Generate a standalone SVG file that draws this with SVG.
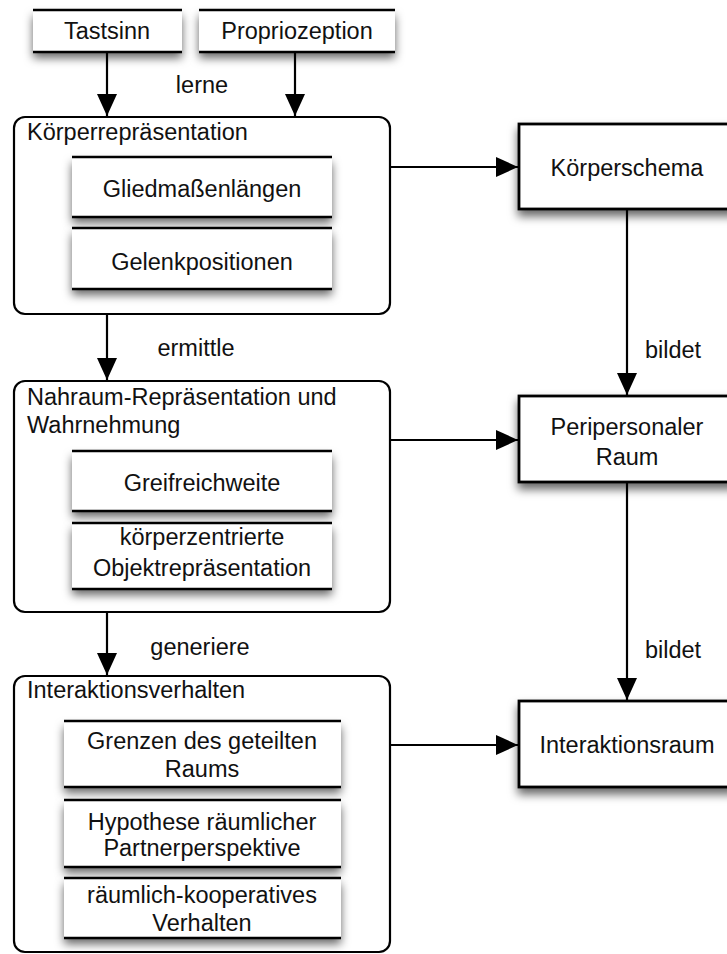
<svg xmlns="http://www.w3.org/2000/svg" width="727" height="954" viewBox="0 0 727 954">
  <defs>
    <filter id="shadow" x="-20%" y="-30%" width="140%" height="190%">
      <feDropShadow dx="0" dy="6" stdDeviation="5" flood-color="#000" flood-opacity="0.6"/>
    </filter>
    <marker id="arrow" viewBox="0 0 22 20" refX="22" refY="10" markerWidth="22" markerHeight="20" markerUnits="userSpaceOnUse" orient="auto">
      <path d="M0,0 L22,10 L0,20 Z" fill="#000"/>
    </marker>
  </defs>
  <style>
    text { font-family: "Liberation Sans", Arial, Helvetica, sans-serif; font-size: 23.5px; fill: #111; }
    .c { text-anchor: middle; }
    .container { fill: #fff; stroke: #000; stroke-width: 2.2; }
    .box { fill: #fff; stroke: #000; stroke-width: 2.8; filter: url(#shadow); }
    .panel { fill: #fff; filter: url(#shadow); }
    .rule { stroke: #000; stroke-width: 2.6; }
    .edge { fill: none; stroke: #000; stroke-width: 2.2; marker-end: url(#arrow); }
  </style>

  <rect width="727" height="954" fill="#fff"/>

  <!-- containers -->
  <g id="koerperrepraesentation">
    <rect class="container" x="14" y="117" width="376" height="197" rx="11"/>
    <text x="27" y="140">Körperrepräsentation</text>
  </g>
  <g id="nahraum">
    <rect class="container" x="14" y="381" width="376" height="231" rx="11"/>
    <text x="27" y="405">Nahraum-Repräsentation und</text>
    <text x="27" y="433">Wahrnehmung</text>
  </g>
  <g id="interaktionsverhalten">
    <rect class="container" x="14" y="676" width="376" height="276" rx="11"/>
    <text x="27" y="698">Interaktionsverhalten</text>
  </g>

  <!-- input panels -->
  <g id="tastsinn">
    <rect class="panel" x="33" y="10" width="149" height="42"/>
    <line class="rule" x1="33" y1="10" x2="182" y2="10"/>
    <line class="rule" x1="33" y1="52" x2="182" y2="52"/>
    <text class="c" x="107" y="39">Tastsinn</text>
  </g>
  <g id="propriozeption">
    <rect class="panel" x="199" y="10" width="196" height="42"/>
    <line class="rule" x1="199" y1="10" x2="395" y2="10"/>
    <line class="rule" x1="199" y1="52" x2="395" y2="52"/>
    <text class="c" x="297" y="39">Propriozeption</text>
  </g>

  <!-- inner panels -->
  <g id="gliedmassenlaengen">
    <rect class="panel" x="72" y="157" width="260" height="60"/>
    <line class="rule" x1="72" y1="157" x2="332" y2="157"/>
    <line class="rule" x1="72" y1="217" x2="332" y2="217"/>
    <text class="c" x="202" y="197">Gliedmaßenlängen</text>
  </g>
  <g id="gelenkpositionen">
    <rect class="panel" x="72" y="228" width="260" height="61"/>
    <line class="rule" x1="72" y1="228" x2="332" y2="228"/>
    <line class="rule" x1="72" y1="289" x2="332" y2="289"/>
    <text class="c" x="202" y="270">Gelenkpositionen</text>
  </g>
  <g id="greifreichweite">
    <rect class="panel" x="72" y="451" width="260" height="60"/>
    <line class="rule" x1="72" y1="451" x2="332" y2="451"/>
    <line class="rule" x1="72" y1="511" x2="332" y2="511"/>
    <text class="c" x="202" y="491">Greifreichweite</text>
  </g>
  <g id="objektrepraesentation">
    <rect class="panel" x="72" y="523" width="260" height="66"/>
    <line class="rule" x1="72" y1="523" x2="332" y2="523"/>
    <line class="rule" x1="72" y1="589" x2="332" y2="589"/>
    <text class="c" x="202" y="545">körperzentrierte</text>
    <text class="c" x="202" y="576">Objektrepräsentation</text>
  </g>
  <g id="grenzen">
    <rect class="panel" x="64" y="721" width="277" height="66"/>
    <line class="rule" x1="64" y1="721" x2="341" y2="721"/>
    <line class="rule" x1="64" y1="787" x2="341" y2="787"/>
    <text class="c" x="202" y="749">Grenzen des geteilten</text>
    <text class="c" x="202" y="777">Raums</text>
  </g>
  <g id="hypothese">
    <rect class="panel" x="64" y="800" width="277" height="67"/>
    <line class="rule" x1="64" y1="800" x2="341" y2="800"/>
    <line class="rule" x1="64" y1="867" x2="341" y2="867"/>
    <text class="c" x="202" y="830">Hypothese räumlicher</text>
    <text class="c" x="202" y="856">Partnerperspektive</text>
  </g>
  <g id="kooperatives-verhalten">
    <rect class="panel" x="64" y="878" width="277" height="60"/>
    <line class="rule" x1="64" y1="878" x2="341" y2="878"/>
    <line class="rule" x1="64" y1="938" x2="341" y2="938"/>
    <text class="c" x="202" y="903">räumlich-kooperatives</text>
    <text class="c" x="202" y="931">Verhalten</text>
  </g>

  <!-- right column -->
  <g id="koerperschema">
    <rect class="box" x="519" y="124" width="216" height="85"/>
    <text class="c" x="627" y="176">Körperschema</text>
  </g>
  <g id="peripersonaler-raum">
    <rect class="box" x="519" y="396" width="216" height="86"/>
    <text class="c" x="627" y="435">Peripersonaler</text>
    <text class="c" x="627" y="465">Raum</text>
  </g>
  <g id="interaktionsraum">
    <rect class="box" x="519" y="701" width="216" height="86"/>
    <text class="c" x="627" y="753">Interaktionsraum</text>
  </g>

  <!-- connectors -->
  <g id="connectors">
    <line class="edge" x1="107" y1="53" x2="107" y2="116"/>
    <line class="edge" x1="295" y1="53" x2="295" y2="116"/>
    <line class="edge" x1="390" y1="167" x2="518" y2="167"/>
    <line class="edge" x1="107" y1="314" x2="107" y2="380"/>
    <line class="edge" x1="390" y1="440" x2="518" y2="440"/>
    <line class="edge" x1="107" y1="612" x2="107" y2="675"/>
    <line class="edge" x1="390" y1="745" x2="518" y2="745"/>
    <line class="edge" x1="627" y1="210" x2="627" y2="395"/>
    <line class="edge" x1="627" y1="483" x2="627" y2="700"/>
    <text class="c" x="202" y="93">lerne</text>
    <text class="c" x="196" y="356">ermittle</text>
    <text class="c" x="200" y="655">generiere</text>
    <text class="c" x="673" y="358">bildet</text>
    <text class="c" x="673" y="658">bildet</text>
  </g>
</svg>
